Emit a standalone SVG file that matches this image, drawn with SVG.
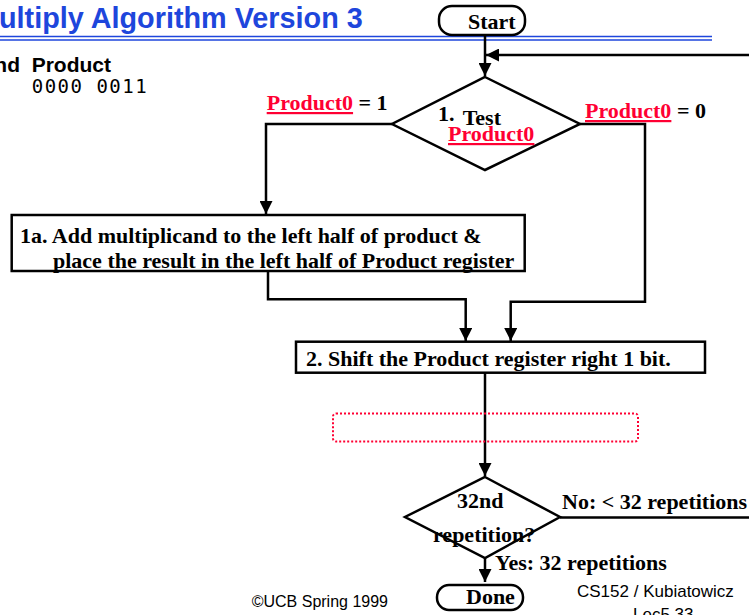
<svg xmlns="http://www.w3.org/2000/svg" width="749" height="615" viewBox="0 0 749 615">
  <style>
    .title { font-family: "Liberation Sans", Arial, sans-serif; font-weight: bold; font-size: 28.8px; fill: #1e46dc; }
    .head { font-family: "Liberation Sans", Arial, sans-serif; font-weight: bold; font-size: 21px; fill: #000; }
    .bits { font-family: "DejaVu Sans Mono", "Liberation Mono", monospace; font-size: 19px; letter-spacing: 1.5px; fill: #000; }
    .fc { font-family: "Liberation Serif", "Times New Roman", serif; font-weight: bold; font-size: 22px; fill: #000; }
    .red { fill: #ff0033; text-decoration: underline; }
    .foot { font-family: "Liberation Sans", Arial, sans-serif; font-size: 16px; fill: #000; }
    .shape { fill: #fff; stroke: #000; stroke-width: 2.5; }
    .conn { fill: none; stroke: #000; stroke-width: 2.5; }
  </style>
  <defs>
    <marker id="arrow" markerUnits="userSpaceOnUse" markerWidth="14" markerHeight="13" refX="13" refY="6.5" orient="auto">
      <path d="M0,0 L13,6.5 L0,13 z" fill="#000"/>
    </marker>
  </defs>

  <!-- slide header -->
  <g id="header">
    <text class="title" x="-1" y="28">ultiply Algorithm Version 3</text>
    <line x1="0" y1="36.5" x2="712" y2="36.5" stroke="#1e46dc" stroke-width="1.5"/>
    <line x1="0" y1="40" x2="712" y2="40" stroke="#1e46dc" stroke-width="1.5"/>
    <text class="head" x="20" y="71.7" text-anchor="end">nd</text>
    <text class="head" x="31.7" y="71.7">Product</text>
    <text class="bits" x="31.7" y="92.7">0000 0011</text>
  </g>

  <!-- connectors -->
  <g id="connectors">
    <line class="conn" x1="485" y1="35" x2="485" y2="76" marker-end="url(#arrow)"/>
    <polyline class="conn" points="560,517.5 770,517.5 770,55 486,55" marker-end="url(#arrow)"/>
    <polyline class="conn" points="392,124 266,124 266,214" marker-end="url(#arrow)"/>
    <polyline class="conn" points="580,124 645,124 645,301.7 510.7,301.7 510.7,341" marker-end="url(#arrow)"/>
    <polyline class="conn" points="268,271 268,299.3 465.7,299.3 465.7,341" marker-end="url(#arrow)"/>
    <line class="conn" x1="485" y1="373" x2="485" y2="476" marker-end="url(#arrow)"/>
    <line class="conn" x1="485" y1="558" x2="485" y2="582" marker-end="url(#arrow)"/>
  </g>

  <!-- edge labels -->
  <g id="labels">
    <text class="fc" x="266.7" y="110"><tspan class="red">Product0</tspan> = 1</text>
    <text class="fc" x="585" y="118"><tspan class="red">Product0</tspan> = 0</text>
    <text class="fc" x="562" y="509">No: &lt; 32 repetitions</text>
    <text class="fc" x="495" y="570">Yes: 32 repetitions</text>
  </g>

  <g id="start">
    <rect class="shape" x="439" y="6" width="86" height="29" rx="13"/>
    <text class="fc" x="468" y="29">Start</text>
  </g>

  <g id="test-product0">
    <polygon class="shape" points="485,77 580,124 485,170 392,124"/>
    <text class="fc" x="438" y="121">1.</text>
    <text class="fc" x="462.7" y="125">Test</text>
    <text class="fc" x="448" y="141"><tspan class="red">Product0</tspan></text>
  </g>

  <g id="add-multiplicand">
    <rect class="shape" x="11.7" y="215" width="513" height="56"/>
    <text class="fc" x="20" y="243">1a. Add multiplicand to the left half of product &amp;</text>
    <text class="fc" x="53" y="268">place the result in the left half of Product register</text>
  </g>

  <g id="shift-right">
    <rect class="shape" x="296" y="341.7" width="409" height="31"/>
    <text class="fc" x="306" y="366">2. Shift the Product register right 1 bit.</text>
  </g>

  <g id="placeholder">
    <rect x="333" y="413.5" width="305" height="28" rx="3" fill="none" stroke="#ff0033" stroke-width="2" stroke-dasharray="2 2"/>
  </g>

  <g id="repetition-check">
    <polygon class="shape" points="485,477 560,517 485,558 405,517"/>
    <text class="fc" x="457" y="508">32nd</text>
    <text class="fc" x="433" y="542">repetition?</text>
  </g>

  <g id="done">
    <rect class="shape" x="437" y="585" width="86" height="25" rx="12"/>
    <text class="fc" x="466" y="604">Done</text>
  </g>

  <!-- slide footer -->
  <g id="footer">
    <text class="foot" x="251.7" y="606.7">©UCB Spring 1999</text>
    <text class="foot" x="577" y="597" style="font-size:17px">CS152 / Kubiatowicz</text>
    <text class="foot" x="633" y="620" style="font-size:17px">Lec5.33</text>
  </g>
</svg>
